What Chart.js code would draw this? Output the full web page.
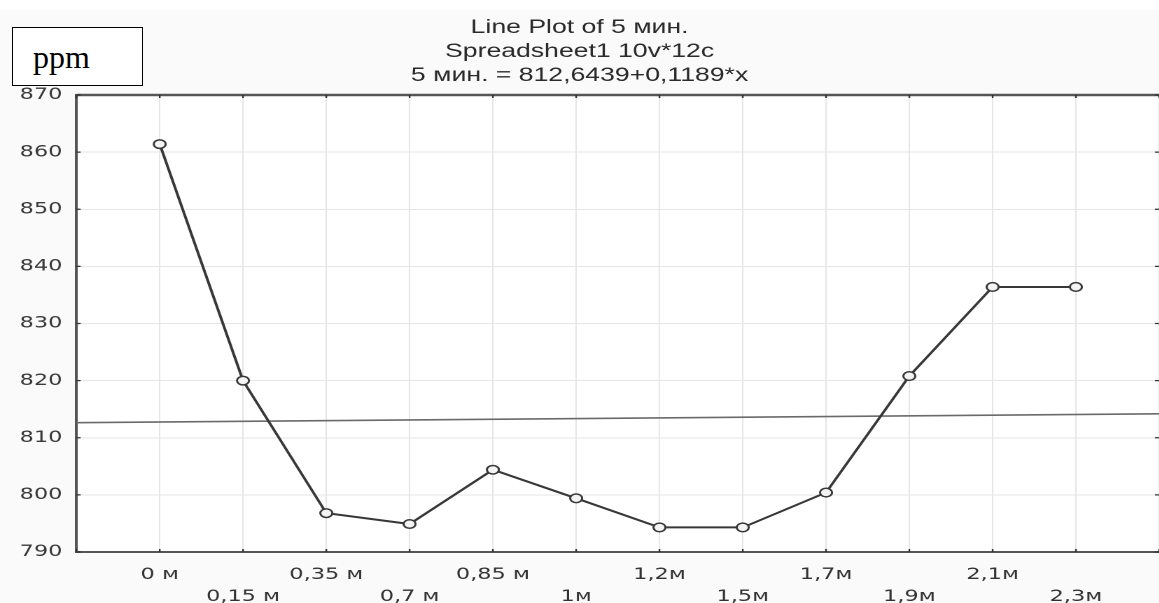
<!DOCTYPE html>
<html lang="ru">
<head>
<meta charset="utf-8">
<title>Line Plot of 5 мин.</title>
<script src="https://cdn.jsdelivr.net/npm/chart.js@4.4.1/dist/chart.umd.min.js"></script>
<style>
  html, body { margin: 0; padding: 0; background: #fff; }
  body { width: 1159px; height: 603px; position: relative; overflow: hidden; }
  /* o gráfico é desenhado estreito e esticado na horizontal, como no original */
  #wrap {
    position: absolute; left: 0; top: 0;
    width: 828px; height: 603px;
    transform: scaleX(1.4); transform-origin: 0 0;
  }
  .unidade {
    position: absolute; left: 12px; top: 27px;
    width: 109px; height: 57px;
    border: 1.5px solid #000; background: #fff;
    font: 32px "Liberation Serif", "Times New Roman", serif;
    color: #000; line-height: 58px; padding-left: 20px;
  }
</style>
</head>
<body>
<div id="wrap"><canvas id="grafico" width="828" height="603"></canvas></div>
<div class="unidade">ppm</div>

<script>
/* ===== dados ===== */
const TITULO = ["Line Plot of 5 мин.", "Spreadsheet1 10v*12c", "5 мин. = 812,6439+0,1189*x"];
const categorias = ["0 м", "0,15 м", "0,35 м", "0,7 м", "0,85 м", "1м", "1,2м", "1,5м", "1,7м", "1,9м", "2,1м", "2,3м"];
const valores = [861.4, 820.0, 796.8, 794.9, 804.4, 799.4, 794.3, 794.3, 800.4, 820.8, 836.4, 836.4];
const Y_MIN = 790, Y_MAX = 870, Y_PASSO = 10;
const X_MIN = -1, X_MAX = 12;

// reta ajustada: 5 мин. = 812,6439 + 0,1189 * x  (x = número do caso, 1..12)
const INTERCEPTO = 812.6439;
const INCLINACAO = 0.1189;

/* ===== utilitários ===== */
function pontos() {
  return valores.map((v, i) => ({ x: i, y: v }));
}

function retaAjustada() {
  return [X_MIN, X_MAX].map(i => ({ x: i, y: INTERCEPTO + INCLINACAO * (i + 1) }));
}

function rotuloX(v) {
  const i = Math.round(v);
  if (i < 0 || i >= categorias.length) return "";
  // rótulos alternados em duas linhas
  return i % 2 === 0 ? categorias[i] : ["", categorias[i]];
}

/* fundo, moldura superior e marcas internas dos eixos */
const moldura = {
  id: "moldura",
  beforeDraw(chart) {
    const { ctx, chartArea: a, width, height } = chart;
    ctx.save();
    ctx.fillStyle = "#fafafa";
    ctx.fillRect(0, 10, width, height - 10);
    ctx.fillStyle = "#fff";
    ctx.fillRect(a.left, a.top, a.right - a.left, a.bottom - a.top);
    ctx.restore();
  },
  afterDraw(chart) {
    const { ctx, chartArea: a, scales } = chart;
    ctx.save();
    ctx.strokeStyle = "#555";
    ctx.lineWidth = 2.5;
    ctx.beginPath();
    ctx.moveTo(a.left, a.top);
    ctx.lineTo(a.right, a.top);
    ctx.stroke();

    ctx.lineWidth = 1.2;
    ctx.strokeStyle = "#333";
    ctx.beginPath();
    scales.x.ticks.forEach(t => {
      const px = scales.x.getPixelForValue(t.value);
      ctx.moveTo(px, a.bottom); ctx.lineTo(px, a.bottom - 3);
      ctx.moveTo(px, a.top); ctx.lineTo(px, a.top + 3);
    });
    scales.y.ticks.forEach(t => {
      const py = scales.y.getPixelForValue(t.value);
      ctx.moveTo(a.left, py); ctx.lineTo(a.left + 3, py);
      ctx.moveTo(a.right, py); ctx.lineTo(a.right - 3, py);
    });
    ctx.stroke();
    ctx.restore();
  }
};

const ctx = document.getElementById("grafico").getContext("2d");

new Chart(ctx, {
  type: "line",
  data: {
    datasets: [
      {
        data: pontos(),
        borderColor: "#383838",
        borderWidth: 2,
        pointRadius: 4.3,
        pointBorderWidth: 1.5,
        pointBorderColor: "#383838",
        pointBackgroundColor: "#f4f4f4",
        tension: 0
      },
      {
        data: retaAjustada(),
        borderColor: "#6a6a6a",
        borderWidth: 1.6,
        pointRadius: 0,
        tension: 0
      }
    ]
  },
  options: {
    responsive: false,
    devicePixelRatio: 2,
    animation: false,
    layout: { padding: 0, autoPadding: false },
    plugins: {
      legend: { display: false },
      tooltip: { enabled: false },
      title: {
        display: true,
        text: TITULO,
        color: "#2a2a2a",
        font: { family: "'Liberation Sans', Arial, sans-serif", size: 19, weight: "normal", lineHeight: 24 / 19 },
        padding: { top: 16, bottom: 7 }
      }
    },
    scales: {
      x: {
        type: "linear",
        min: X_MIN,
        max: X_MAX,
        afterFit: s => { s.height = 51; },
        ticks: {
          stepSize: 1,
          autoSkip: false,
          maxRotation: 0,
          padding: 0,
          color: "#333",
          font: { family: "'DejaVu Sans', Verdana, sans-serif", size: 16, lineHeight: 22 / 16 },
          callback: rotuloX
        },
        // marcas de escala invisíveis: só afastam os rótulos do eixo
        grid: { color: "#e6e6e6", lineWidth: 1, drawTicks: true, tickLength: 12, tickColor: "rgba(0,0,0,0)" },
        border: { color: "#555", width: 2 }
      },
      y: {
        min: Y_MIN,
        max: Y_MAX,
        afterFit: s => { s.width = 54.6; },
        ticks: {
          stepSize: Y_PASSO,
          padding: 10,
          color: "#3a3a3a",
          font: { family: "'DejaVu Sans', Verdana, sans-serif", size: 16 }
        },
        grid: { color: "#e6e6e6", lineWidth: 1, drawTicks: false },
        border: { color: "#555", width: 2 }
      }
    }
  },
  plugins: [moldura]
});
</script>
</body>
</html>
